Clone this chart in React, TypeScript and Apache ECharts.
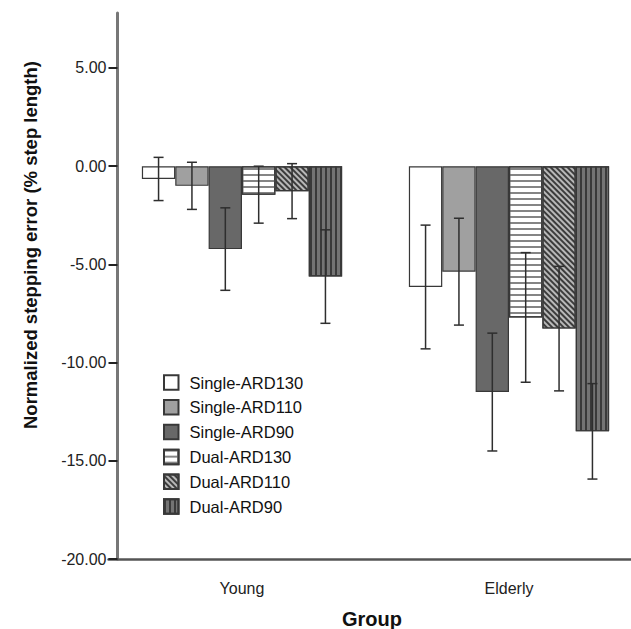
import React, { useEffect, useRef } from "react";
import * as echarts from "echarts";

const categories = ["Young", "Elderly"];
const seriesNames = ["Single-ARD130", "Single-ARD110", "Single-ARD90", "Dual-ARD130", "Dual-ARD110", "Dual-ARD90"];
const youngMeans = [-0.65, -1.0, -4.22, -1.45, -1.27, -5.62];
const youngErr = [1.1, 1.2, 2.1, 1.45, 1.4, 2.38];
const elderlyMeans = [-6.15, -5.37, -11.5, -7.7, -8.27, -13.5];
const elderlyErr = [3.15, 2.72, 3.0, 3.3, 3.17, 2.43];
const yTicks = [-20, -15, -10, -5, 0, 5];

const FONT = "Arial, 'Liberation Sans', sans-serif";

const styles: any[] = [
  { color: "#ffffff" },
  { color: "#a0a0a0" },
  { color: "#686868" },
  {
    color: "#ffffff",
    decal: { symbol: "rect", symbolSize: 1, color: "#858585", dashArrayX: [20, 0], dashArrayY: [2, 3.3], rotation: 0 },
  },
  {
    color: "#b8b8b8",
    decal: { symbol: "rect", symbolSize: 1, color: "#3c3c3c", dashArrayX: [20, 0], dashArrayY: [1.6, 2], rotation: Math.PI / 4 },
  },
  {
    color: "#747474",
    decal: { symbol: "rect", symbolSize: 1, color: "#3a3a3a", dashArrayX: [1.8, 2.6], dashArrayY: [20, 0], rotation: 0 },
  },
];

export default function App() {
  const ref = useRef<HTMLDivElement>(null);
  useEffect(() => {
    if (!ref.current) return;
    const chart = echarts.init(ref.current, null, { renderer: "svg" });

    const barSeries = seriesNames.map((name, i) => ({
      name,
      type: "bar",
      barGap: "0%",
      barCategoryGap: "25%",
      data: [youngMeans[i], elderlyMeans[i]],
      itemStyle: { ...styles[i], borderColor: "#383838", borderWidth: 1.2 },
      z: 2,
    }));

    const errSeries = seriesNames.map((name, i) => ({
      name: "err-" + name,
      type: "custom",
      z: 10,
      data: [
        [0, youngMeans[i] - youngErr[i], youngMeans[i] + youngErr[i]],
        [1, elderlyMeans[i] - elderlyErr[i], elderlyMeans[i] + elderlyErr[i]],
      ],
      encode: { x: 0, y: [1, 2] },
      renderItem: (params: any, api: any) => {
        const cat = api.value(0);
        const lo = api.value(1);
        const hi = api.value(2);
        const bw = (api.size([1, 0])[0] * 0.75) / 6;
        const cx = api.coord([cat, 0])[0] + (i - 2.5) * bw;
        const yLo = api.coord([cat, lo])[1];
        const yHi = api.coord([cat, hi])[1];
        const st = { stroke: "#2e2e2e", lineWidth: 1.5 };
        return {
          type: "group",
          children: [
            { type: "line", shape: { x1: cx, y1: yLo, x2: cx, y2: yHi }, style: st },
            { type: "line", shape: { x1: cx - 5, y1: yLo, x2: cx + 5, y2: yLo }, style: st },
            { type: "line", shape: { x1: cx - 5, y1: yHi, x2: cx + 5, y2: yHi }, style: st },
          ],
        };
      },
    }));

    chart.setOption({
      animation: false,
      backgroundColor: "#ffffff",
      textStyle: { fontFamily: FONT },
      grid: { left: 108.5, width: 534, top: 13, bottom: 70, containLabel: false, outerBoundsMode: "none" },
      legend: {
        data: seriesNames,
        orient: "vertical",
        left: 163,
        top: 374,
        padding: 0,
        itemWidth: 14.5,
        itemHeight: 14.5,
        itemGap: 7.8,
        icon: "rect",
        selectedMode: false,
        textStyle: { fontSize: 16.5, color: "#111", fontFamily: FONT, padding: [0, 0, 0, 6] },
      },
      xAxis: {
        type: "category",
        data: categories,
        axisLine: { onZero: false, lineStyle: { color: "#555", width: 2.5 } },
        axisTick: { alignWithLabel: true, length: 9, lineStyle: { color: "#222", width: 2 } },
        axisLabel: { fontSize: 16, color: "#222", margin: 21, fontFamily: FONT },
        splitLine: { show: false },
      },
      yAxis: {
        type: "value",
        min: -20,
        max: 7.8,
        offset: -9,
        axisLine: { show: true, lineStyle: { color: "#777", width: 3 } },
        axisTick: { show: true, length: 9, customValues: yTicks, lineStyle: { color: "#222", width: 2 } },
        axisLabel: {
          fontSize: 16,
          color: "#222",
          margin: 11,
          fontFamily: FONT,
          customValues: yTicks,
          formatter: (v: number) => v.toFixed(2),
        },
        splitLine: { show: false },
      },
      graphic: [
        {
          type: "text",
          x: 30,
          y: 245,
          rotation: Math.PI / 2,
          style: {
            text: "Normalized stepping error (% step length)",
            font: "bold 18.5px " + FONT,
            fill: "#111",
            textAlign: "center",
            textVerticalAlign: "middle",
          },
        },
        {
          type: "text",
          x: 372,
          y: 619,
          style: {
            text: "Group",
            font: "bold 20px " + FONT,
            fill: "#111",
            textAlign: "center",
            textVerticalAlign: "middle",
          },
        },
      ],
      series: [...barSeries, ...errSeries],
    });
    return () => chart.dispose();
  }, []);
  return <div ref={ref} style={{ position: "absolute", left: 0, top: 0, width: 631, height: 629 }} />;
}
